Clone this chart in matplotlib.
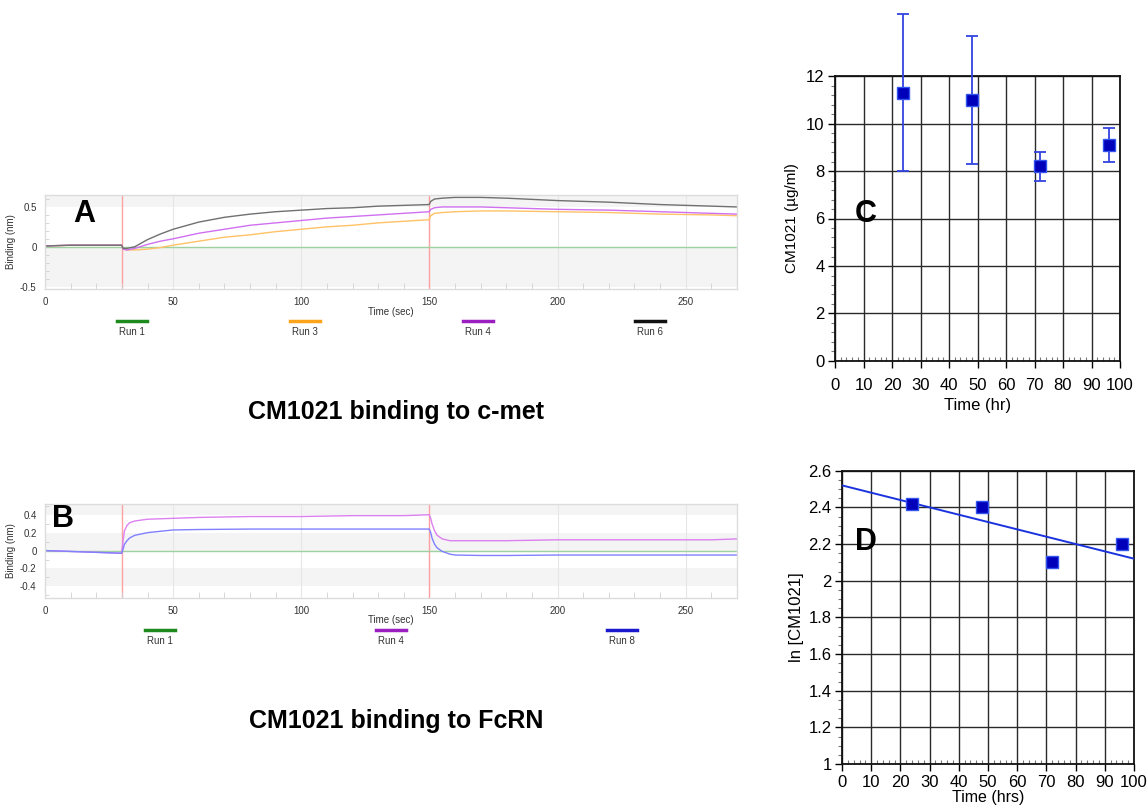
import numpy as np
import matplotlib
matplotlib.use("Agg")
import matplotlib.pyplot as plt
from matplotlib.ticker import MultipleLocator

plt.rcParams['font.family'] = ['Liberation Sans', 'DejaVu Sans']

# ---------------- Data ----------------
# Panel A: c-met sensorgram (Binding, nm vs time, sec)
a_time = [0, 10, 20, 29.9, 30.5, 32, 35, 40, 45, 50, 60, 70, 80, 90, 100, 110, 120,
          130, 140, 149.9, 150.5, 152, 155, 160, 170, 180, 200, 220, 240, 260, 270]
a_run1 = [0.0] * len(a_time)
a_run3 = [0.01, 0.02, 0.02, 0.02, -0.03, -0.04, -0.04, -0.03, -0.01, 0.02, 0.07, 0.12, 0.15,
          0.19, 0.22, 0.25, 0.27, 0.30, 0.32, 0.34, 0.39, 0.42, 0.43, 0.44, 0.45, 0.45, 0.44,
          0.43, 0.41, 0.40, 0.39]
a_run4 = [0.01, 0.02, 0.02, 0.02, -0.03, -0.04, -0.02, 0.03, 0.07, 0.10, 0.17, 0.22, 0.27,
          0.30, 0.33, 0.36, 0.38, 0.40, 0.42, 0.44, 0.47, 0.49, 0.50, 0.50, 0.50, 0.49, 0.47,
          0.46, 0.44, 0.42, 0.41]
a_run6 = [0.01, 0.02, 0.02, 0.02, -0.02, -0.02, 0.0, 0.09, 0.16, 0.22, 0.31, 0.37, 0.41,
          0.44, 0.46, 0.48, 0.49, 0.51, 0.52, 0.53, 0.57, 0.60, 0.61, 0.62, 0.62, 0.61, 0.58,
          0.56, 0.53, 0.51, 0.50]
a_labels = ["Run 1", "Run 3", "Run 4", "Run 6"]
a_colors = ["#9fd09f", "#ffc266", "#d070f0", "#707070"]
a_legend_colors = ["#1e8a1e", "#ffa31a", "#9a1ec0", "#111111"]

# Panel B: FcRN sensorgram
b_time = [0, 10, 20, 29.9, 30.5, 31, 32, 33, 35, 40, 50, 60, 80, 100, 120, 140, 149.9,
          150.5, 151, 152, 153, 155, 158, 160, 170, 180, 200, 220, 240, 260, 270]
b_run1 = [0.0] * len(b_time)
b_run4 = [0.0, -0.01, -0.02, -0.03, 0.12, 0.22, 0.28, 0.31, 0.33, 0.35, 0.36, 0.37, 0.38,
          0.38, 0.39, 0.39, 0.40, 0.36, 0.30, 0.22, 0.17, 0.13, 0.11, 0.11, 0.11, 0.11,
          0.12, 0.12, 0.12, 0.12, 0.13]
b_run8 = [0.0, -0.01, -0.02, -0.03, 0.02, 0.07, 0.11, 0.14, 0.17, 0.20, 0.23, 0.235, 0.24,
          0.24, 0.24, 0.24, 0.24, 0.20, 0.14, 0.07, 0.03, -0.01, -0.04, -0.05, -0.055,
          -0.055, -0.05, -0.05, -0.05, -0.05, -0.05]
b_labels = ["Run 1", "Run 4", "Run 8"]
b_colors = ["#9fd09f", "#dd80f0", "#8080ff"]
b_legend_colors = ["#1e8a1e", "#9a1ec0", "#1a1acc"]

# Panel C: concentration vs time
c_time = [24, 48, 72, 96]
c_conc = [11.3, 11.0, 8.2, 9.1]
c_err = [3.3, 2.7, 0.6, 0.7]

# Panel D: ln concentration vs time with fitted line
d_time = [24, 48, 72, 96]
d_ln = [2.42, 2.40, 2.10, 2.20]
d_fit_x = [0, 100]
d_fit_y = [2.52, 2.12]

W, H = 1148, 807
fig = plt.figure(figsize=(W / 100, H / 100), dpi=100)


def fx(px):
    return px / W


def fy(py):
    return 1 - py / H


def sensor_axes(rect, ylim, band_lows, band_step, yticks, time, series, colors, letter, letter_pos):
    ax = fig.add_axes(rect)
    ax.set_xlim(0, 270)
    ax.set_ylim(*ylim)
    for lo in band_lows:
        ax.axhspan(lo, lo + band_step, color="#f4f4f4", lw=0, zorder=0)
    for xv in [50, 100, 150, 200, 250]:
        ax.axvline(xv, color="#e6e6e6", lw=0.8, zorder=0.5)
    for xv in [30, 150]:
        ax.axvline(xv, color="#ff9f9f", lw=1.0, zorder=1)
    for s, c in zip(series, colors):
        ax.plot(time, s, color=c, lw=1.0, zorder=2)
    ax.set_yticks(yticks)
    ax.set_yticklabels([("%g" % v) for v in yticks])
    ax.set_xticks([0, 50, 100, 150, 200, 250])
    ax.xaxis.set_minor_locator(MultipleLocator(10))
    ax.yaxis.set_minor_locator(MultipleLocator(0.1))
    ax.tick_params(axis="both", which="major", labelsize=7, length=0, pad=6, colors="#333333")
    ax.tick_params(axis="x", which="minor", direction="in", length=4, color="#d0d0d0")
    ax.tick_params(axis="y", which="minor", direction="in", length=3, color="#d0d0d0")
    for sp in ax.spines.values():
        sp.set_color("#dcdcdc")
        sp.set_linewidth(1.0)
    ax.set_ylabel("Binding (nm)", fontsize=7, color="#333333", labelpad=3)
    ax.set_xlabel("Time (sec)", fontsize=7, color="#333333", labelpad=2)
    fig.text(fx(letter_pos[0]), fy(letter_pos[1]), letter, fontsize=22, fontweight="bold",
             ha="center", va="center")
    return ax


axA = sensor_axes([fx(45), fy(289), fx(737) - fx(45), fy(195) - fy(289)], (-0.53, 0.65),
                  [0.5, -0.5], 0.5, [-0.5, 0, 0.5], a_time, [a_run1, a_run3, a_run4, a_run6],
                  a_colors, "A", (84, 214))
axA.xaxis.set_label_coords(0.5, -0.19)

axB = sensor_axes([fx(45), fy(598), fx(737) - fx(45), fy(504) - fy(598)], (-0.53, 0.52),
                  [0.4, 0.0, -0.4], 0.2, [-0.4, -0.2, 0, 0.2, 0.4], b_time,
                  [b_run1, b_run4, b_run8], b_colors, "B", (63, 519))
axB.xaxis.set_label_coords(0.5, -0.18)

# run legends under the sensorgrams
a_leg_x = [132, 305, 478, 650]
for lab, col, xc in zip(a_labels, a_legend_colors, a_leg_x):
    fig.add_artist(plt.Line2D([fx(xc - 15), fx(xc + 15)], [fy(321), fy(321)], color=col, lw=2.5))
    fig.text(fx(xc), fy(332), lab, fontsize=7, ha="center", va="center", color="#333333")
b_leg_x = [160, 391, 622]
for lab, col, xc in zip(b_labels, b_legend_colors, b_leg_x):
    fig.add_artist(plt.Line2D([fx(xc - 15), fx(xc + 15)], [fy(630), fy(630)], color=col, lw=2.5))
    fig.text(fx(xc), fy(641), lab, fontsize=7, ha="center", va="center", color="#333333")

fig.text(fx(396), fy(412), "CM1021 binding to c-met", fontsize=18, fontweight="bold",
         ha="center", va="center")
fig.text(fx(396), fy(721), "CM1021 binding to FcRN", fontsize=18, fontweight="bold",
         ha="center", va="center")


def pk_axes(rect, ylim, ystep, yminor, xpad):
    ax = fig.add_axes(rect)
    ax.set_xlim(0, 100)
    ax.set_ylim(*ylim)
    ax.set_xticks(np.arange(0, 101, 10))
    ax.set_yticks(np.arange(ylim[0], ylim[1] + 1e-9, ystep))
    ax.xaxis.set_minor_locator(MultipleLocator(2))
    ax.yaxis.set_minor_locator(MultipleLocator(yminor))
    ax.grid(True, which="major", color="#2a2a2a", lw=1.0)
    ax.set_axisbelow(True)
    ax.tick_params(axis="both", which="major", labelsize=12, length=5, width=1, direction="out")
    ax.tick_params(axis="x", which="major", pad=xpad)
    ax.tick_params(axis="y", which="major", pad=2.5)
    ax.tick_params(axis="x", which="minor", direction="in", length=3, width=0.8, color="#777777")
    ax.tick_params(axis="y", which="minor", direction="out", length=3, width=0.8, color="#777777")
    for sp in ax.spines.values():
        sp.set_linewidth(1.3)
        sp.set_color("#111111")
    return ax


axC = pk_axes([fx(835), fy(361), fx(1120) - fx(835), fy(76) - fy(361)], (0, 12), 2, 0.4, 7)
axC.errorbar(c_time, c_conc, yerr=c_err, fmt="s", color="#3344e0", ecolor="#3344e0",
             elinewidth=1.3, capsize=4.5, capthick=1.3, markersize=8,
             markerfacecolor="#0000bb", markeredgecolor="#3355ee", clip_on=False, zorder=5)
axC.set_ylabel("CM1021 (µg/ml)", fontsize=11, labelpad=5)
axC.set_xlabel("Time (hr)", fontsize=12, labelpad=4)
axC.set_yticklabels(["%d" % v for v in np.arange(0, 13, 2)])
fig.text(fx(866), fy(214), "C", fontsize=22, fontweight="bold", ha="center", va="center")

axD = pk_axes([fx(842), fy(764), fx(1134) - fx(842), fy(470.7) - fy(764)], (1.0, 2.6), 0.2, 0.05, 3.0)
axD.plot(d_fit_x, d_fit_y, color="#1a33dd", lw=1.4, zorder=4)
axD.plot(d_time, d_ln, "s", markersize=8, markerfacecolor="#0000bb",
         markeredgecolor="#3355ee", clip_on=False, zorder=5)
axD.set_yticks(np.arange(1.0, 2.61, 0.2))
axD.set_yticklabels(["1", "1.2", "1.4", "1.6", "1.8", "2", "2.2", "2.4", "2.6"])
axD.set_ylabel("ln [CM1021]", fontsize=12, labelpad=3)
axD.set_xlabel("Time (hrs)", fontsize=11.5, labelpad=0)
fig.text(fx(866), fy(542), "D", fontsize=22, fontweight="bold", ha="center", va="center")

fig.savefig("out.png", dpi=100)
